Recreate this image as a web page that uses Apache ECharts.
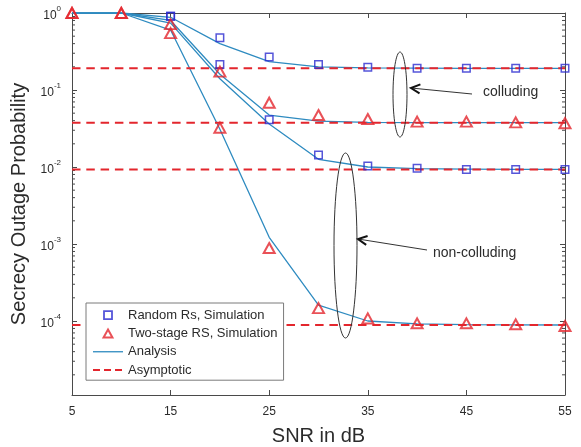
<!DOCTYPE html>
<html><head><meta charset="utf-8">
<script src="https://cdn.jsdelivr.net/npm/echarts@6/dist/echarts.min.js"></script>
<style>html,body{margin:0;padding:0;background:#fff}#c{width:581px;height:447px}</style>
</head><body><div id="c"></div>
<script>
// ---- data ----
const snr = [5, 10, 15, 20, 25, 30, 35, 40, 45, 50, 55];
const xTickValues = [5, 15, 25, 35, 45, 55];

// Analysis curves
const anaRandomColl = [1, 1, 0.88, 0.40, 0.233, 0.200, 0.194, 0.192, 0.191, 0.191, 0.191];
const anaTwoColl    = [1, 1, 0.80, 0.16, 0.0473, 0.0395, 0.038, 0.0377, 0.0376, 0.0376, 0.0376];
const anaRandomNon  = [1, 1, 0.74, 0.14, 0.0362, 0.0126, 0.0100, 0.0095, 0.0094, 0.0093, 0.0093];
const anaTwoNon     = [1, 1, 0.60, 0.031, 0.00122, 0.000161, 0.000100, 0.000092, 0.000090, 0.000089, 0.0000887];

// Simulation points
const simRandomX    = [15, 20, 25, 30, 35, 40, 45, 50, 55];
const simRandomColl = [0.91, 0.476, 0.269, 0.214, 0.197, 0.191, 0.191, 0.191, 0.191];
const simRandomNon  = [0.91, 0.214, 0.041, 0.0143, 0.0103, 0.0096, 0.0093, 0.0093, 0.0093];
const simTwoX       = [5, 10, 15, 20, 25, 30, 35, 40, 45, 50, 55];
const simTwoColl    = [1, 1, 0.718, 0.173, 0.0684, 0.0473, 0.042, 0.0388, 0.0388, 0.038, 0.037];
const simTwoNon     = [1, 1, 0.548, 0.0324, 0.000887, 0.000147, 0.000108, 0.0000933, 0.0000933, 0.0000906, 0.000086];

// Asymptotes
const asymX = [5, 55];
const asymValues = [0.191, 0.0376, 0.0093, 0.0000887];

// ---- chart ----
const axisColor = '#4a4a4a';
const textColor = '#2b2b2b';
const lineColor = '#2E8BC0';
const redColor = '#E3262D';
const blueColor = '#2B2BCF';
const yMin = Math.pow(10, -4.961);

const minorTickValues = [];
for (let k = -5; k < 0; k++) for (let m = 2; m <= 9; m++) {
  const v = m * Math.pow(10, k);
  if (v > yMin) minorTickValues.push(v);
}

const zip = (xs, ys) => xs.map((x, i) => [x, ys[i]]);

const series = [];
series.push({
  type: 'custom', silent: true, z: 1,
  data: minorTickValues.map(v => [5, v]),
  renderItem: function (params, api) {
    const p = api.coord([api.value(0), api.value(1)]);
    const cs = params.coordSys;
    const st = { stroke: axisColor, lineWidth: 1 };
    return { type: 'group', children: [
      { type: 'line', shape: { x1: cs.x, y1: p[1], x2: cs.x + 3, y2: p[1] }, style: st },
      { type: 'line', shape: { x1: cs.x + cs.width - 3, y1: p[1], x2: cs.x + cs.width, y2: p[1] }, style: st }
    ]};
  }
});
[anaRandomColl, anaTwoColl, anaRandomNon, anaTwoNon].forEach(arr => series.push({
  name: 'Analysis', type: 'line', data: zip(snr, arr), symbol: 'none', showSymbol: false,
  lineStyle: { color: lineColor, width: 1.3 }, itemStyle: { color: lineColor }, z: 3
}));
asymValues.forEach(v => series.push({
  name: 'Asymptotic', type: 'line', data: zip(asymX, [v, v]), symbol: 'none', showSymbol: false,
  lineStyle: { color: redColor, width: 2, type: [8.5, 5.8] }, itemStyle: { color: redColor }, z: 4
}));
[simRandomColl, simRandomNon].forEach(arr => series.push({
  name: 'Random Rs, Simulation', type: 'scatter', data: zip(simRandomX, arr), symbol: 'rect', symbolSize: 7.5,
  itemStyle: { color: 'rgba(0,0,0,0)', borderColor: blueColor, borderWidth: 1.5 }, z: 5
}));
[simTwoColl, simTwoNon].forEach(arr => series.push({
  name: 'Two-stage RS, Simulation', type: 'scatter', data: zip(simTwoX, arr), symbol: 'triangle', symbolSize: [11, 10],
  itemStyle: { color: 'rgba(0,0,0,0)', borderColor: redColor, borderWidth: 2 }, z: 5
}));

function arrow(x1, y1, x2, y2) {
  const dx = x2 - x1, dy = y2 - y1, L = Math.hypot(dx, dy);
  const ux = dx / L, uy = dy / L, h = 9, w = 4.5;
  const bx = x2 - ux * h, by = y2 - uy * h;
  return [
    { type: 'line', shape: { x1: x1, y1: y1, x2: x2, y2: y2 }, style: { stroke: '#333', lineWidth: 1 } },
    { type: 'polyline', shape: { points: [[bx - uy * w, by + ux * w], [x2, y2], [bx + uy * w, by - ux * w]] },
      style: { stroke: '#111', lineWidth: 2, fill: null } }
  ];
}

const graphic = [
  { type: 'ellipse', shape: { cx: 400, cy: 94.5, rx: 7, ry: 42.5 }, style: { stroke: '#333', fill: null, lineWidth: 1 }, z: 10 },
  ...arrow(472, 94, 411, 88),
  { type: 'text', left: 483, top: 85, style: { text: 'colluding', fontSize: 14, fill: textColor, fontFamily: 'Liberation Sans, Arial, sans-serif' } },
  { type: 'ellipse', shape: { cx: 345.5, cy: 245.5, rx: 11.5, ry: 92.5 }, style: { stroke: '#333', fill: null, lineWidth: 1 }, z: 10 },
  ...arrow(427, 250, 358, 239),
  { type: 'text', left: 433, top: 246, style: { text: 'non-colluding', fontSize: 14, fill: textColor, fontFamily: 'Liberation Sans, Arial, sans-serif' } }
];

const xBase = {
  type: 'value', min: 5, max: 55, interval: 5,
  axisLine: { show: true, lineStyle: { color: axisColor, width: 1 } },
  axisTick: { show: true, inside: true, length: 5, customValues: xTickValues, lineStyle: { color: axisColor } },
  splitLine: { show: false }
};
const yBase = {
  type: 'log', logBase: 10, min: yMin, max: 1,
  axisLine: { show: true, lineStyle: { color: axisColor, width: 1 } },
  axisTick: { show: true, inside: true, length: 5, lineStyle: { color: axisColor } },
  splitLine: { show: false }, minorTick: { show: false }
};

function expLabel(v) {
  const e = Math.log10(v);
  if (Math.abs(e - Math.round(e)) > 1e-6) return '';
  return '{b|10}{s|' + Math.round(e) + '}';
}

const option = {
  backgroundColor: '#fff',
  animation: false,
  textStyle: { fontFamily: 'Liberation Sans, Arial, sans-serif' },
  grid: { left: 72, right: 16, top: 13, bottom: 52, containLabel: false, outerBoundsMode: 'none' },
  xAxis: [
    Object.assign({}, xBase, {
      position: 'bottom',
      axisLabel: { show: true, customValues: xTickValues, margin: 11, fontSize: 12, color: textColor },
      name: 'SNR in dB', nameLocation: 'middle', nameGap: 31,
      nameTextStyle: { fontSize: 20, color: textColor }
    }),
    Object.assign({}, xBase, { position: 'top', axisLabel: { show: false } })
  ],
  yAxis: [
    Object.assign({}, yBase, {
      position: 'left',
      axisLabel: {
        show: true, margin: 11, color: textColor,
        formatter: expLabel,
        rich: {
          b: { fontSize: 12, color: textColor, verticalAlign: 'bottom', lineHeight: 17 },
          s: { fontSize: 8, color: textColor, verticalAlign: 'top', lineHeight: 17 }
        }
      },
      name: 'Secrecy Outage Probability', nameLocation: 'middle', nameGap: 29,
      nameTextStyle: { fontSize: 20, color: textColor }
    }),
    Object.assign({}, yBase, { position: 'right', axisLabel: { show: false } })
  ],
  legend: {
    orient: 'vertical', left: 86, top: 303, z: 20,
    itemWidth: 30, itemHeight: 8, itemGap: 0, symbolKeepAspect: true,
    padding: [3, 6, 1, 6],
    backgroundColor: '#fff', borderColor: '#7a7a7a', borderWidth: 1, borderRadius: 0,
    textStyle: { fontSize: 13, color: textColor, lineHeight: 18.3 },
    data: [
      { name: 'Random Rs, Simulation', icon: 'path://M0 0 L10 0 L10 10 L0 10 Z', itemStyle: { borderWidth: 1.8 } },
      { name: 'Two-stage RS, Simulation', icon: 'path://M5 0 L10 9 L0 9 Z', itemStyle: { borderWidth: 2 } },
      { name: 'Analysis', lineStyle: { width: 1.3 }, itemStyle: { opacity: 0, borderWidth: 0 } },
      { name: 'Asymptotic', lineStyle: { width: 2, type: [7, 4] }, itemStyle: { opacity: 0, borderWidth: 0 } }
    ]
  },
  graphic: graphic,
  series: series
};

const chart = echarts.init(document.getElementById('c'), null, { renderer: 'canvas' });
chart.setOption(option);
</script>
</body></html>
